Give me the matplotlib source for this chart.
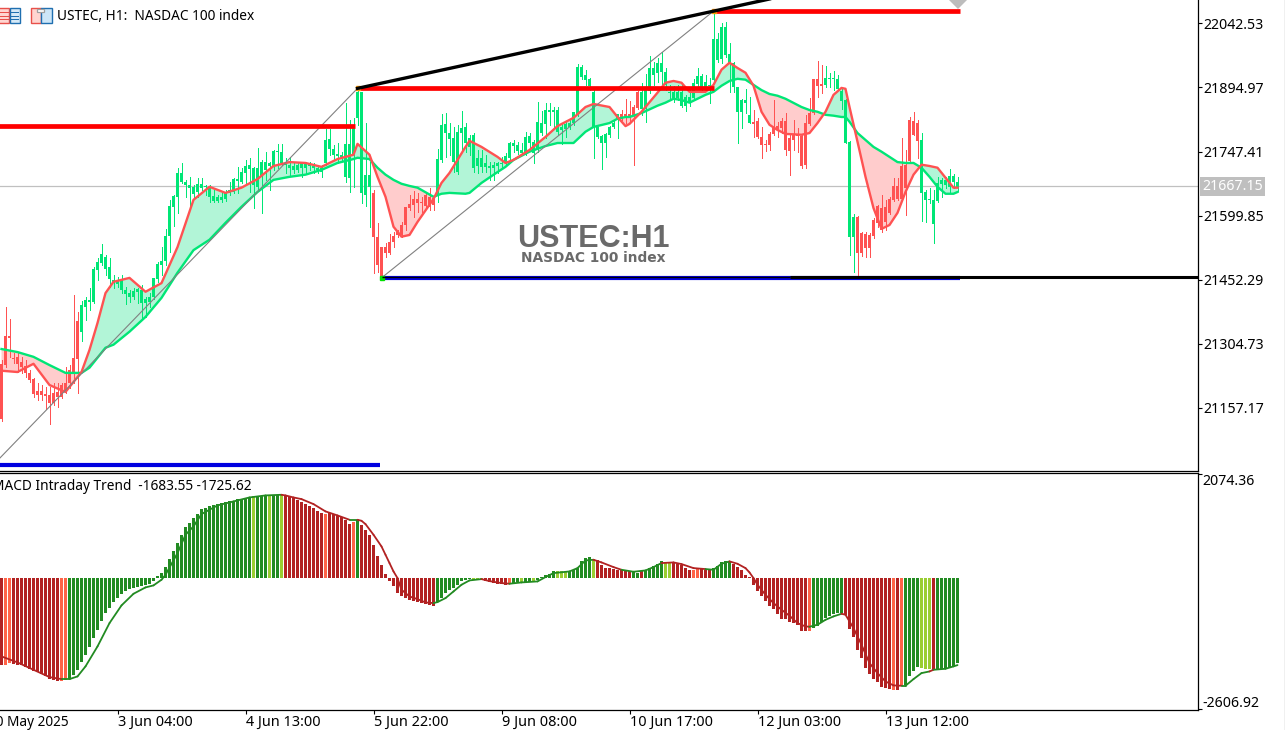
# USTEC H1 chart with MACD panel
import numpy as np
import matplotlib
matplotlib.use('Agg')
import matplotlib.pyplot as plt
from matplotlib.patches import Rectangle

W, H = 1285, 730
GREEN, RED = '#00E676', '#FF5252'
FILL_G, FILL_R = '#B2F5D7', '#FFCCCC'

wick_high = [21267,21389,21362,21283,21283,21274,21267,21244,21225,21214,
    21209,21205,21205,21214,21214,21214,21251,21255,21417,21378,
    21403,21412,21433,21481,21502,21534,21509,21502,21463,21458,
    21463,21435,21428,21433,21433,21440,21412,21421,21456,21493,
    21527,21569,21636,21647,21710,21721,21682,21689,21670,21687,
    21687,21670,21670,21659,21647,21654,21659,21677,21687,21712,
    21710,21728,21733,21712,21756,21728,21747,21723,21751,21765,
    21765,21733,21735,21721,21721,21723,21723,21723,21721,21714,
    21717,21800,21800,21763,21767,21747,21859,21820,21825,21894,
    21885,21813,21723,21659,21583,21528,21537,21557,21562,21567,
    21585,21620,21647,21657,21652,21643,21652,21663,21645,21753,
    21834,21836,21813,21804,21809,21841,21813,21786,21790,21751,
    21751,21740,21723,21723,21723,21735,21744,21770,21774,21770,
    21767,21793,21790,21774,21862,21841,21859,21859,21850,21850,
    21813,21816,21820,21839,21949,21947,21936,21917,21894,21804,
    21786,21790,21806,21820,21834,21843,21869,21864,21855,21887,
    21906,21926,21968,21954,21963,21977,21940,21901,21899,21901,
    21901,21878,21894,21915,21940,21926,21924,21917,22069,22021,
    22044,22046,21998,21954,21896,21869,21892,21873,21843,21825,
    21804,21774,21793,21866,21816,21825,21836,21790,21820,21802,
    21786,21832,21871,21915,21956,21947,21945,21929,21933,21924,
    21896,21869,21772,21604,21599,21562,21562,21560,21594,21624,
    21647,21636,21643,21687,21687,21779,21751,21827,21839,21820,
    21790,21659,21663,21659,21689,21687,21689,21707,21696,21689]
body_high = [21258,21322,21322,21272,21274,21262,21253,21237,21223,21195,
    21195,21189,21186,21191,21193,21209,21214,21244,21272,21357,
    21394,21405,21405,21477,21493,21511,21504,21481,21451,21451,
    21451,21428,21421,21426,21431,21428,21408,21412,21456,21488,
    21495,21553,21622,21645,21698,21698,21677,21670,21666,21673,
    21673,21668,21664,21645,21643,21643,21652,21659,21684,21684,
    21700,21714,21717,21710,21710,21723,21723,21721,21749,21749,
    21747,21721,21717,21714,21717,21721,21721,21721,21714,21710,
    21710,21774,21777,21753,21742,21740,21765,21765,21802,21885,
    21885,21694,21694,21652,21551,21528,21528,21539,21553,21562,
    21578,21620,21627,21638,21638,21631,21647,21643,21640,21730,
    21809,21811,21790,21779,21793,21802,21804,21779,21786,21733,
    21733,21721,21714,21717,21721,21721,21737,21767,21767,21763,
    21751,21781,21783,21770,21816,21813,21843,21843,21843,21843,
    21804,21811,21813,21839,21943,21943,21924,21915,21885,21804,
    21783,21788,21804,21813,21834,21834,21834,21834,21850,21885,
    21885,21894,21940,21940,21952,21952,21931,21885,21885,21885,
    21885,21873,21873,21906,21922,21922,21908,21901,22007,22007,
    22035,22035,21972,21952,21896,21866,21866,21832,21816,21818,
    21781,21765,21788,21804,21806,21818,21818,21779,21788,21788,
    21783,21813,21836,21915,21915,21903,21917,21917,21917,21915,
    21887,21866,21770,21597,21597,21560,21557,21555,21590,21622,
    21617,21620,21638,21668,21668,21714,21717,21820,21818,21813,
    21774,21654,21638,21636,21675,21682,21682,21691,21691,21677]
body_low = [21131,21255,21318,21269,21258,21251,21237,21221,21189,21186,
    21186,21184,21168,21168,21182,21182,21193,21214,21239,21269,
    21332,21389,21401,21401,21474,21491,21477,21454,21444,21442,
    21428,21419,21412,21412,21424,21398,21398,21401,21412,21454,
    21486,21495,21553,21620,21643,21677,21670,21664,21650,21654,
    21664,21666,21643,21634,21634,21636,21638,21652,21654,21680,
    21677,21698,21707,21670,21666,21689,21705,21714,21712,21747,
    21721,21717,21710,21705,21705,21710,21710,21714,21710,21705,
    21700,21721,21753,21740,21737,21735,21689,21687,21740,21825,
    21652,21647,21666,21551,21486,21458,21514,21514,21539,21555,
    21555,21578,21617,21624,21629,21629,21622,21620,21624,21647,
    21728,21790,21777,21723,21700,21790,21767,21758,21710,21714,
    21712,21712,21710,21710,21714,21719,21723,21733,21760,21749,
    21744,21744,21767,21744,21751,21790,21811,21839,21839,21793,
    21797,21800,21804,21813,21832,21919,21913,21899,21804,21781,
    21767,21767,21786,21804,21825,21827,21827,21827,21830,21848,
    21846,21846,21887,21924,21929,21931,21901,21883,21871,21871,
    21853,21853,21860,21871,21903,21894,21896,21899,21913,21959,
    21961,21970,21952,21896,21839,21839,21860,21813,21811,21781,
    21763,21763,21763,21788,21797,21802,21751,21749,21774,21783,
    21714,21717,21811,21836,21899,21899,21901,21915,21915,21892,
    21864,21767,21551,21551,21514,21514,21525,21525,21553,21583,
    21567,21585,21606,21636,21638,21638,21664,21726,21786,21772,
    21652,21636,21636,21581,21634,21673,21670,21666,21677,21664]
wick_low = [21126,21251,21274,21260,21239,21237,21228,21216,21182,21175,
    21175,21154,21119,21163,21159,21179,21191,21202,21214,21191,
    21311,21359,21382,21398,21451,21486,21463,21435,21433,21435,
    21421,21396,21401,21408,21398,21364,21366,21389,21408,21447,
    21463,21486,21516,21576,21606,21675,21643,21620,21643,21643,
    21659,21647,21631,21631,21631,21631,21634,21647,21652,21652,
    21675,21670,21654,21617,21659,21606,21682,21659,21705,21710,
    21717,21698,21693,21698,21700,21689,21698,21705,21698,21698,
    21689,21717,21740,21728,21721,21728,21677,21654,21666,21809,
    21629,21622,21574,21468,21470,21456,21504,21511,21527,21551,
    21551,21567,21613,21597,21608,21608,21617,21613,21613,21631,
    21723,21735,21740,21700,21696,21747,21747,21740,21700,21698,
    21700,21700,21682,21682,21698,21710,21717,21730,21747,21742,
    21742,21740,21758,21721,21747,21786,21779,21809,21802,21786,
    21765,21781,21800,21809,21830,21915,21901,21889,21733,21779,
    21707,21735,21781,21802,21779,21820,21813,21813,21717,21846,
    21832,21816,21883,21901,21908,21894,21889,21866,21862,21866,
    21850,21841,21853,21869,21899,21889,21894,21860,21908,21954,
    21952,21966,21885,21885,21767,21802,21836,21813,21781,21779,
    21733,21749,21751,21786,21781,21790,21740,21693,21751,21747,
    21710,21710,21809,21834,21873,21883,21896,21896,21889,21889,
    21846,21767,21509,21470,21458,21507,21504,21504,21548,21574,
    21562,21567,21604,21634,21636,21636,21601,21723,21786,21733,
    21587,21585,21629,21537,21631,21643,21664,21654,21663,21657]
# bar ranges where the candles are red
red_runs = [(0, 19), (93, 108), (155, 159), (188, 205), (214, 229)]

ma_bars = [0,4,8,12,16,20,22,24,26,28,32,36,40,44,48,52,56,60,64,68,72,76,80,84,88,89,92,94,96,98,
    100,102,104,108,110,112,116,117,120,124,126,128,132,136,139,143,146,148,152,154,156,157,
    160,164,166,168,170,172,176,178,180,182,184,186,188,190,192,194,196,200,202,204,206,208,
    210,211,212,214,216,218,220,222,224,226,228,230,232,234,236,238,239]
ma_fast = [21242,21239,21258,21209,21193,21239,21290,21352,21421,21447,21456,21424,21444,21527,21636,21666,
    21652,21664,21684,21714,21723,21721,21712,21730,21740,21765,21740,21689,21643,21574,
    21551,21555,21585,21638,21675,21698,21758,21772,21758,21735,21721,21728,21751,21781,21806,
    21825,21850,21857,21850,21827,21806,21811,21839,21883,21906,21910,21906,21885,21885,21901,
    21936,21952,21940,21929,21899,21839,21809,21797,21788,21786,21790,21813,21839,21878,
    21894,21892,21850,21770,21689,21617,21569,21578,21606,21654,21694,21717,21714,21710,21687,21664,21664]
ma_slow = [21292,21285,21274,21255,21237,21237,21249,21272,21295,21302,21332,21366,21410,21468,21520,21544,
    21583,21620,21654,21682,21689,21694,21705,21721,21730,21733,21730,21710,21694,21682,
    21673,21668,21664,21643,21650,21652,21650,21652,21675,21700,21712,21728,21747,21760,21767,
    21767,21793,21804,21813,21823,21827,21827,21836,21853,21860,21869,21866,21860,21878,21885,
    21899,21910,21915,21913,21901,21889,21880,21876,21869,21850,21843,21839,21832,21830,
    21827,21827,21816,21790,21774,21758,21747,21735,21723,21721,21721,21710,21689,21666,21650,21650,21654]

macd_hist = [-1733,-1719,-1686,-1706,-1719,-1733,-1766,-1799,-1838,-1871,
    -1905,-1944,-1997,-2017,-2050,-2050,-2017,-2004,-1918,-1819,
    -1666,-1521,-1375,-1190,-1025,-846,-694,-595,-483,-397,
    -317,-265,-218,-198,-179,-152,-139,-119,-66,33,
    99,212,384,542,694,860,1005,1091,1190,1270,
    1362,1389,1422,1455,1468,1488,1508,1521,1534,1561,
    1574,1587,1614,1620,1620,1633,1640,1640,1653,1653,
    1653,1640,1620,1587,1554,1501,1468,1422,1389,1336,
    1290,1276,1290,1270,1243,1204,1157,1078,1104,1157,
    1058,959,860,661,443,265,86,-66,-165,-298,
    -364,-397,-443,-450,-476,-496,-509,-542,-562,-476,
    -397,-298,-231,-198,-145,-66,-46,-20,-40,-33,
    -20,-66,-79,-99,-112,-119,-145,-99,-99,-86,
    -73,-86,-79,-66,-46,20,66,86,139,139,
    139,132,145,152,198,331,397,417,377,350,
    265,198,192,179,165,152,152,145,132,99,
    132,152,198,245,284,331,324,317,311,284,
    251,198,165,165,179,179,165,165,192,245,
    317,331,344,284,218,152,70,26,-132,-265,
    -364,-463,-549,-615,-708,-813,-813,-880,-893,-939,
    -1045,-1058,-1045,-992,-946,-880,-794,-747,-708,-694,
    -694,-727,-1005,-1177,-1422,-1587,-1786,-1905,-2004,-2070,
    -2162,-2182,-2202,-2215,-2215,-2136,-2116,-1951,-1838,-1766,
    -1786,-1805,-1805,-1819,-1805,-1805,-1786,-1766,-1739,-1684]
hist_codes = ('r' + 'tt' + 'r'*12 + 'tt' + 'g'*46 + 'y' + 'ggg' + 'y' + 'gg' + 'y' + 'r'*10 + 't'
    + 'r'*6 + 't' + 'g' + 'r'*19 + 'g'*9 + 'yyy' + 'r'*6 + 't' + 'gg' + 'y' + 'gg' + 'y' + 'g'*5
    + 'yyy' + 'g'*6 + 'y' + 'r'*9 + 'gg' + 'r' + 'g'*5 + 'yy' + 'r'*5 + 'tt' + 'rrr' + 'g'*5
    + 'r'*19 + 't' + 'g'*8 + 'r'*12 + 't' + 'r' + 't' + 'g'*4 + 'yyy' + 'r' + 'g'*6)
hist_palette = {'r': '#B22222', 't': '#FF6347', 'g': '#228B22', 'y': '#9ACD32'}

signal_bars = [0,4,8,12,15,17,19,21,24,27,30,33,36,38,40,41,44,46,48,50,54,58,62,66,70,71,73,75,78,81,
    84,87,89,90,91,93,95,96,97,98,99,100,102,104,106,108,109,111,113,115,117,120,122,125,127,130,134,136,
    138,142,144,146,148,150,153,155,158,161,163,165,168,170,173,176,178,180,182,184,186,187,188,189,191,
    193,195,197,199,201,202,204,206,208,210,211,213,215,217,219,221,223,225,226,228,230,232,233,236,238,239]
signal = [-1554,-1673,-1819,-1964,-2004,-2004,-1951,-1752,-1356,-893,-542,-311,-185,-145,-33,66,496,860,
    1025,1270,1442,1521,1600,1640,1653,1640,1600,1567,1468,1323,1243,1157,1157,1137,1071,860,628,463,298,
    132,0,-231,-364,-417,-483,-496,-476,-397,-265,-132,-46,-20,-60,-99,-112,-86,-66,20,99,132,198,350,364,
    311,218,165,126,152,218,298,311,278,198,179,165,284,331,284,198,112,0,-132,-331,-496,-628,-747,-893,
    -959,-965,-926,-827,-760,-708,-727,-992,-1323,-1686,-1885,-2050,-2129,-2136,-2136,-2004,-1885,-1852,
    -1819,-1799,-1752,-1726]

price_ticks = [22042.53, 21894.97, 21747.41, 21599.85, 21452.29, 21304.73, 21157.17]
macd_ticks = [2074.36, -2606.92]
last_price = 21667.15
x_tick_bars = [29, 61, 93, 125, 157, 189, 221]
x_tick_labels = ['3 Jun 04:00', '4 Jun 13:00', '5 Jun 22:00', '9 Jun 08:00',
                 '10 Jun 17:00', '12 Jun 03:00', '13 Jun 12:00']
# start bar, end bar, price
red_levels = [(-1, 88.4, 21806), (89, 178, 21893), (178, 239.6, 22071)]
blue_levels = [(-1, 94.6, 21024), (95, 239.6, 21456)]

FONT = 'Noto Sans'
fig = plt.figure(figsize=(W/100, H/100), dpi=100, facecolor='white')
ax = fig.add_axes([0, (H-471)/H, 1198/W, 471/H])
ax2 = fig.add_axes([0, (H-710)/H, 1198/W, 237/H])
for a in (ax, ax2):
    for s in ('top', 'left'):
        a.spines[s].set_visible(False)
    for s in ('right', 'bottom'):
        a.spines[s].set_linewidth(0.9)
ax2.spines['top'].set_visible(True)
ax2.spines['top'].set_linewidth(0.9)

bars = np.arange(240)
colors = np.array([GREEN]*240, dtype=object)
for a, b in red_runs:
    colors[a:b+1] = RED
colors = list(colors)

# price line under everything
ax.axhline(last_price, color='#C0C0C0', lw=0.9, zorder=1)

# cloud
fast = np.array(ma_fast)
slow = np.array(ma_slow)
ax.fill_between(ma_bars, slow, fast, where=fast >= slow, interpolate=True, color=FILL_G, lw=0, zorder=2)
ax.fill_between(ma_bars, slow, fast, where=fast <= slow, interpolate=True, color=FILL_R, lw=0, zorder=2)

# candles
ax.vlines(bars, wick_low, wick_high, colors=colors, lw=0.72, zorder=3, antialiased=False)
ax.bar(bars, np.array(body_high)-np.array(body_low), bottom=body_low, width=0.88, color=colors,
       lw=0, zorder=3, antialiased=False)

ax.plot(ma_bars, ma_slow, color=GREEN, lw=1.7, zorder=4)
ax.plot(ma_bars, ma_fast, color=RED, lw=1.7, zorder=5)

# objects drawn on the chart
ax.plot([-1, 89], [21035, 21893], color='#808080', lw=0.8, zorder=6)
ax.plot([95, 178], [21456, 22071], color='#808080', lw=0.8, zorder=6)
for x0, x1, p in red_levels:
    ax.plot([x0, x1], [p, p], color='#FF0000', lw=3.4, solid_capstyle='butt', zorder=7)
for x0, x1, p in blue_levels:
    ax.plot([x0, x1], [p, p], color='#0000E0', lw=3.0, solid_capstyle='butt', zorder=7)
ax.plot([95, 197], [21457, 21457], color='black', lw=1.0, solid_capstyle='butt', zorder=8)
ax.plot([197, 299.2], [21457.5, 21457.5], color='black', lw=2.2, solid_capstyle='butt', zorder=8)
ax.plot([89, 178, 194], [21893, 22071, 22103], color='black', lw=2.4, zorder=8)
ax.plot([89, 178], [21893, 22071], ls='', marker='s', ms=3.5, color='#FF9800', zorder=7)
ax.plot([95], [21456], ls='', marker='s', ms=3.5, color='#00E000', zorder=7)
ax.plot([239], [22098], ls='', marker='D', ms=10, color='#BDBDBD', mew=0, zorder=9)

ax.text(148, 21545, 'USTEC:H1', color='#6A6A6A', fontsize=22, fontweight='bold',
        family='Liberation Sans', ha='center', va='center', zorder=9)
ax.text(148, 21503, 'NASDAC 100 index', color='#6A6A6A', fontsize=9.9, fontweight='bold',
        family='DejaVu Sans', ha='center', va='center', zorder=9)

# MACD panel
ax2.bar(bars, macd_hist, width=0.75, color=[hist_palette[c] for c in hist_codes], lw=0, antialiased=False, zorder=2)
for k in range(len(signal_bars)-1):
    c = '#228B22' if hist_codes[signal_bars[k+1]] in 'gy' else '#B22222'
    ax2.plot(signal_bars[k:k+2], signal[k:k+2], color=c, lw=1.3, solid_capstyle='round', zorder=3)

# axes and labels
ax.xaxis.set_visible(False)
ax.yaxis.tick_right()
ax.set_yticks(price_ticks)
ax.set_yticklabels(['%.2f' % p for p in price_ticks], fontsize=10.2, family=FONT)
ax.tick_params(axis='y', length=3, width=0.8, pad=1.2)

ax2.yaxis.tick_right()
ax2.set_yticks(macd_ticks)
ax2.set_yticklabels([])
ax2.tick_params(axis='y', length=3, width=0.8)
ax2.annotate('2074.36', xy=(1, macd_ticks[0]), xycoords=('axes fraction', 'data'), xytext=(3.5, -6),
             textcoords='offset points', fontsize=10.2, family=FONT, va='center', annotation_clip=False)
ax2.annotate('-2606.92', xy=(1, macd_ticks[1]), xycoords=('axes fraction', 'data'), xytext=(3.5, 4.5),
             textcoords='offset points', fontsize=10.2, family=FONT, va='center', annotation_clip=False)

ax2.set_xticks(x_tick_bars)
ax2.set_xticklabels(x_tick_labels, fontsize=10.4, family=FONT, ha='left')
ax2.tick_params(axis='x', length=3, width=0.8, pad=0.5)
ax2.text(-3.25, -0.02, '30 May 2025', transform=ax2.get_xaxis_transform(), fontsize=9.8, family=FONT,
         ha='left', va='top', clip_on=False)

for a in (ax, ax2):
    a.set_xlim(-0.375, 299.125)
ax.set_ylim(21010.8, 22096.7)
ax2.set_ylim(-2617, 2085)

ax.text(1.0035, last_price, '%.2f' % last_price, transform=ax.get_yaxis_transform(), color='white',
        fontsize=10.2, family=FONT, va='center', ha='left', zorder=10, clip_on=False,
        bbox=dict(boxstyle='square,pad=0.12', fc='#BFBFBF', ec='none'))

fig.text(57/W, 1-16/H, 'USTEC, H1:  NASDAC 100 index', fontsize=9.85, family=FONT, va='center')
fig.text(-8/W, 1-486/H, 'MACD Intraday Trend  -1683.55 -1725.62', fontsize=9.85, family=FONT, va='center')

# small icons at top left and the strip at the right edge
def box(x, y, w, h, fc, ec='none', lw=0.0):
    fig.add_artist(Rectangle((x/W, 1-(y+h)/H), w/W, h/H, transform=fig.transFigure, fc=fc, ec=ec, lw=lw))

box(-2, 8.5, 11, 14, '#FFD5D0', '#E8504A', 1.0)
box(9.5, 8.5, 10, 14, '#D5E9F7', '#1F6FB0', 1.0)
for r in (12, 15.5, 19):
    box(-2, r, 10.5, 1.3, '#E8504A')
    box(10, r, 9, 1.3, '#1F6FB0')
box(30.5, 8.5, 10, 14, '#FFD5D0', '#E8504A', 1.0)
box(41, 8.5, 10.5, 14, '#CDE6F8', '#1F6FB0', 1.0)
box(37, 8.5, 7, 3.5, '#FFFFFF', '#A0A0A0', 0.9)
box(1283.5, 0, 2, H, '#F0F0F0')

fig.savefig('out.png', dpi=100)
